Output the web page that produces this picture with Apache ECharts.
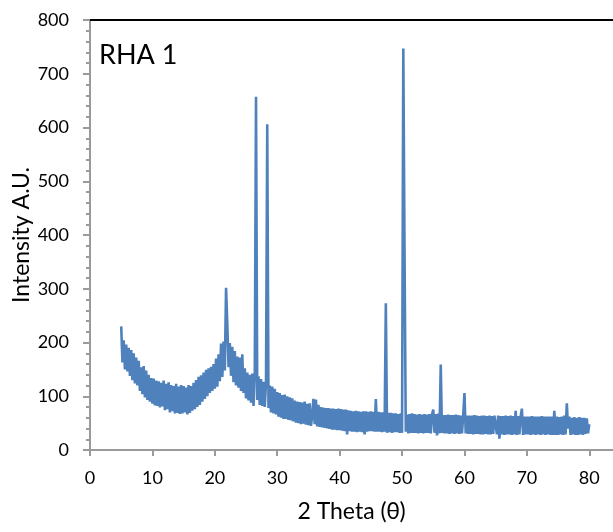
<!DOCTYPE html>
<html>
<head>
<meta charset="utf-8">
<script src="https://cdn.jsdelivr.net/npm/echarts@6/dist/echarts.min.js"></script>
<style>
html,body{margin:0;padding:0;background:#fff;}
#chart{width:613px;height:532px;}
</style>
</head>
<body>
<div id="chart"></div>
<script>
// Sampling grid of the scan (2θ, degrees)
const thetaStart = 5;
const thetaStep = 0.2;
// Intensity (A.U.), one row per degree (5 samples each)
const intensity = [
  230, 163, 204, 150, 196,   // 5
  146, 190, 138, 186, 130,   // 6
  180, 124, 172, 120, 166,   // 7
  110, 154, 104, 156, 98,    // 8
  148, 93, 140, 90, 134,     // 9
  86, 133, 83, 129, 82,      // 10
  128, 79, 125, 81, 129,     // 11
  74, 123, 76, 126, 70,      // 12
  121, 72, 119, 68, 123,     // 13
  69, 118, 67, 121, 68,      // 14
  119, 70, 116, 66, 121,     // 15
  69, 119, 73, 125, 76,      // 16
  130, 80, 136, 84, 139,     // 17
  90, 144, 95, 149, 100,     // 18
  152, 106, 155, 110, 160,   // 19
  114, 170, 118, 178, 128,   // 20
  198, 136, 202, 148, 302,   // 21
  235, 154, 199, 138, 192,   // 22
  126, 184, 120, 174, 116,   // 23
  172, 110, 178, 106, 152,   // 24
  96, 144, 92, 140, 88,      // 25
  142, 82, 140, 657, 93,     // 26
  137, 84, 132, 82, 127,     // 27
  80, 125, 606, 78, 120,     // 28
  70, 118, 68, 114, 66,      // 29
  108, 62, 106, 60, 102,     // 30
  58, 103, 58, 100, 56,      // 31
  98, 55, 96, 53, 92,        // 32
  51, 90, 50, 89, 48,        // 33
  88, 49, 90, 47, 86,        // 34
  46, 87, 45, 62, 95,        // 35
  48, 94, 44, 84, 43,        // 36
  80, 42, 79, 41, 78,        // 37
  40, 78, 39, 77, 38,        // 38
  77, 38, 76, 37, 77,        // 39
  37, 76, 36, 75, 35,        // 40
  75, 29, 74, 35, 73,        // 41
  34, 72, 34, 73, 33,        // 42
  72, 34, 71, 33, 72,        // 43
  29, 72, 34, 71, 35,        // 44
  72, 35, 71, 34, 95,        // 45
  34, 71, 34, 70, 33,        // 46
  70, 34, 273, 32, 69,       // 47
  33, 69, 32, 68, 33,        // 48
  68, 33, 67, 32, 68,        // 49
  32, 747, 362, 34, 66,      // 50
  31, 67, 32, 68, 32,        // 51
  67, 32, 66, 31, 67,        // 52
  32, 66, 31, 67, 32,        // 53
  66, 32, 67, 31, 66,        // 54
  75, 32, 67, 27, 68,        // 55
  31, 159, 32, 65, 31,       // 56
  65, 31, 66, 30, 65,        // 57
  31, 65, 30, 66, 31,        // 58
  65, 30, 64, 31, 65,        // 59
  106, 31, 64, 30, 64,       // 60
  30, 64, 29, 65, 30,        // 61
  64, 30, 63, 29, 64,        // 62
  29, 64, 30, 63, 29,        // 63
  64, 29, 63, 30, 64,        // 64
  63, 29, 64, 21, 63,        // 65
  29, 63, 28, 64, 29,        // 66
  63, 29, 64, 28, 63,        // 67
  29, 73, 28, 63, 29,        // 68
  62, 77, 28, 62, 29,        // 69
  62, 29, 62, 28, 63,        // 70
  29, 62, 28, 62, 29,        // 71
  62, 28, 63, 29, 62,        // 72
  28, 62, 29, 62, 28,        // 73
  62, 28, 73, 28, 62,        // 74
  28, 61, 29, 62, 28,        // 75
  64, 29, 87, 40, 62,        // 76
  28, 60, 29, 61, 28,        // 77
  60, 28, 61, 29, 60,        // 78
  28, 60, 30, 59, 31,        // 79
  48                         // 80
];
const xTickValues = [0, 10, 20, 30, 40, 50, 60, 70, 80];
const yMin = 0, yMax = 800, yStep = 100;
const xMin = 0, xMax = 83.8, xStep = 10;
const panelLabel = 'RHA 1';
const xTitle = '2 Theta (\u03B8)';
const yTitle = 'Intensity A.U.';

const seriesData = intensity.map((v, i) => [+(thetaStart + i * thetaStep).toFixed(1), v]);

const FONT = 'Lato, "Open Sans", sans-serif';
const axisGray = '#9a9a9a';

const chart = echarts.init(document.getElementById('chart'), null, {renderer: 'canvas'});
chart.setOption({
  animation: false,
  backgroundColor: '#fff',
  grid: {left: 90, right: 0, top: 20, bottom: 82, containLabel: false, outerBoundsMode: 'none'},
  xAxis: [{
    type: 'value', min: xMin, max: xMax, interval: xStep,
    position: 'bottom',
    axisLine: {show: true, onZero: false, lineStyle: {color: axisGray, width: 2}},
    axisTick: {show: true, length: 6, lineStyle: {color: axisGray, width: 2}, customValues: xTickValues},
    axisLabel: {show: true, margin: 19, color: '#000', fontSize: 18, fontFamily: FONT,
      customValues: xTickValues,
      formatter: v => (v > 80 ? '' : String(v))},
    splitLine: {show: false},
    name: xTitle, nameLocation: 'middle', nameGap: 50, nameMoveOverlap: false,
    nameTextStyle: {color: '#000', fontSize: 23, fontFamily: FONT}
  }, {
    type: 'value', min: xMin, max: xMax, position: 'top',
    axisLine: {show: true, onZero: false, lineStyle: {color: '#000', width: 2}},
    axisTick: {show: false}, axisLabel: {show: false}, splitLine: {show: false}
  }],
  yAxis: {
    type: 'value', min: yMin, max: yMax, interval: yStep,
    axisLine: {show: true, onZero: false, lineStyle: {color: axisGray, width: 2}},
    axisTick: {show: true, length: 7, lineStyle: {color: axisGray, width: 2}},
    minorTick: {show: true, splitNumber: 5, length: 4, lineStyle: {color: axisGray, width: 2}},
    axisLabel: {show: true, margin: 21, color: '#000', fontSize: 18, fontFamily: FONT},
    splitLine: {show: false},
    name: yTitle, nameLocation: 'middle', nameGap: 57, nameMoveOverlap: false,
    nameTextStyle: {color: '#000', fontSize: 23, fontFamily: FONT}
  },
  graphic: [{
    type: 'text', left: 99, top: 42,
    style: {text: panelLabel, fill: '#000', font: '27px ' + FONT}
  }],
  series: [{
    type: 'line', xAxisIndex: 0,
    data: seriesData,
    showSymbol: false, symbol: 'none',
    sampling: null,
    lineStyle: {color: '#4F81BD', width: 2.6},
    emphasis: {disabled: true}
  }]
});
</script>
</body>
</html>
